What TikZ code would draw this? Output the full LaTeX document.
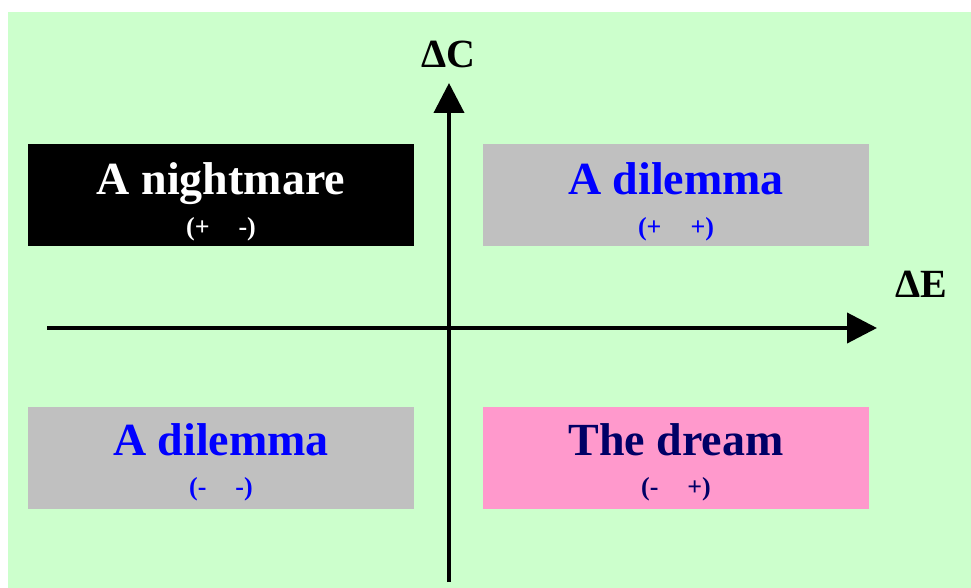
\documentclass[tikz,border=0pt]{standalone}
\usepackage{fontspec}
\setmainfont{Liberation Serif}
\usetikzlibrary{arrows.meta}
\definecolor{bggreen}{HTML}{CCFFCC}
\definecolor{boxgray}{HTML}{C0C0C0}
\definecolor{boxpink}{HTML}{FF99CC}
\definecolor{txtblue}{HTML}{0000FF}
\definecolor{txtnavy}{HTML}{000066}
\tikzset{
  quad/.style={draw=none, minimum width=386pt, minimum height=102pt, inner sep=0pt, anchor=north west},
  maintxt/.style={inner sep=0pt, anchor=base, font=\fontsize{46}{50}\selectfont\bfseries},
  subtxt/.style={inner sep=0pt, anchor=base, font=\fontsize{26}{30}\selectfont\bfseries},
  axlabel/.style={inner sep=0pt, anchor=base, font=\fontsize{40}{44}\selectfont\bfseries},
  axis/.style={line width=4pt, -{Triangle[length=30pt,width=30pt]}}
}
\newcommand{\gapsp}{\hspace{29pt}}
\begin{document}
\begin{tikzpicture}[x=1pt,y=-1pt]
\useasboundingbox (0,0) rectangle (971,588);
\fill[bggreen] (8,12) rectangle (971,588);
% boxes
\node[quad, fill=black] (nw) at (28,144) {};
\node[quad, fill=boxgray] (ne) at (483,144) {};
\node[quad, fill=boxgray] (sw) at (28,407) {};
\node[quad, fill=boxpink] (se) at (483,407) {};
% texts
\node[maintxt, text=white] (nwt) at (221,195) {A nightmare};
\node[subtxt, text=white] (nws) at (221,235) {(+\gapsp-)};
\node[maintxt, text=txtblue] (net) at (676,195) {A dilemma};
\node[subtxt, text=txtblue] (nes) at (676,235) {(+\gapsp+)};
\node[maintxt, text=txtblue] (swt) at (221,455) {A dilemma};
\node[subtxt, text=txtblue] (sws) at (221,495) {(-\gapsp-)};
\node[maintxt, text=txtnavy] (set) at (676,455) {The dream};
\node[subtxt, text=txtnavy] (ses) at (676,495) {(-\gapsp+)};
% axes
\coordinate (vbot) at (449,582);
\coordinate (vtop) at (449,83);
\coordinate (hleft) at (47,328);
\coordinate (hright) at (877,328);
\draw[axis] (vbot) -- (vtop);
\draw[axis] (hleft) -- (hright);
\node[axlabel] (dc) at (448,68) {ΔC};
\node[axlabel] (de) at (921,297) {ΔE};
\end{tikzpicture}
\end{document}
